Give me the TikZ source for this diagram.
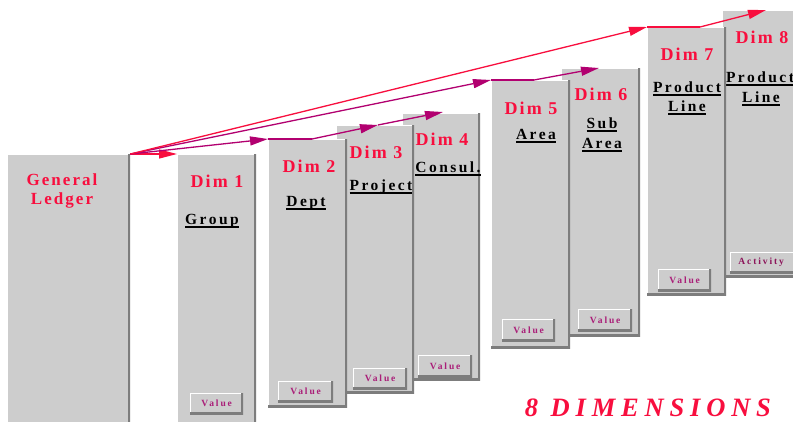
\documentclass[tikz,border=0pt]{standalone}
\usepackage{fontspec}
\setmainfont{Liberation Serif}
\usetikzlibrary{arrows.meta}
\newfontfamily\spacedA{Liberation Serif}[LetterSpace=12]
\newfontfamily\spacedB{Liberation Serif}[LetterSpace=16]
\newfontfamily\spacedC{Liberation Serif}[LetterSpace=20]
\newfontfamily\spacedT{Liberation Serif}[LetterSpace=22]
\definecolor{boxgray}{RGB}{205,205,205}
\definecolor{edgegray}{RGB}{125,125,125}
\definecolor{dimred}{RGB}{248,14,62}
\definecolor{arrmag}{RGB}{178,0,112}
\definecolor{valtext}{RGB}{170,30,120}
\definecolor{acttext}{RGB}{140,20,90}
\newsavebox\ulbox
\newcommand\myul[1]{\sbox\ulbox{#1}\rlap{\rule[-4pt]{\wd\ulbox}{1.8pt}}\usebox\ulbox}
\tikzset{
  panel/.style={fill=boxgray, inner sep=0, anchor=north west, path picture={
    \draw[white, line width=1.5pt] (path picture bounding box.south west) -- (path picture bounding box.north west) -- (path picture bounding box.north east);
    \draw[edgegray, line width=3.5pt] (path picture bounding box.north east) -- (path picture bounding box.south east) -- (path picture bounding box.south west);}},
  btn/.style={panel, text=valtext, font=\spacedC\bfseries\fontsize{9.5}{9.5}\selectfont},
  dimlab/.style={anchor=base, inner sep=0, text=dimred, font=\spacedA\bfseries\fontsize{18}{18}\selectfont},
  fieldlab/.style={anchor=base, inner sep=0, text=black, font=\spacedB\bfseries\fontsize{15.5}{16}\selectfont},
  redarrow/.style={draw=dimred, line width=1.3pt, -{Triangle[length=18pt,width=9pt]}},
  magarrow/.style={draw=arrmag, line width=1.3pt, -{Triangle[length=18pt,width=9pt]}},
  redline/.style={draw=dimred, line width=1.3pt},
  magline/.style={draw=arrmag, line width=1.3pt},
}
\begin{document}
\begin{tikzpicture}[x=1pt,y=-1pt]
\useasboundingbox (0,0) rectangle (793,421);
\fill[white] (0,0) rectangle (793,421);
\clip (0,0) rectangle (793,421);
% General ledger
\node[panel, minimum width=123, minimum height=280] (GL) at (7,154) {};
\node[dimlab, font=\spacedA\bfseries\fontsize{17}{17}\selectfont] (gl1) at (62,185) {General};
\node[dimlab, font=\spacedA\bfseries\fontsize{17}{17}\selectfont] (gl2) at (62,204) {Ledger};
% Dim 1
\node[panel, minimum width=79, minimum height=280] (D1) at (177,154) {};
\node[dimlab] (d1t) at (217,187) {Dim 1};
\node[fieldlab] (d1f) at (212,224) {\myul{Group}};
\node[btn, minimum width=53, minimum height=21] (B1) at (190,393) {Value};
% Dim 4, 3, 2
\node[panel, minimum width=78, minimum height=267] (D4) at (402,113) {};
\node[dimlab] (d4t) at (442,145) {Dim 4};
\node[fieldlab] (d4f) at (448,172) {\myul{Consul.}};
\node[btn, minimum width=54, minimum height=22] (B4) at (418,355) {Value};
\node[panel, minimum width=78, minimum height=268] (D3) at (336,125) {};
\node[dimlab] (d3t) at (376,158) {Dim 3};
\node[fieldlab] (d3f) at (381,190) {\myul{Project}};
\node[btn, minimum width=54, minimum height=21] (B3) at (353,368) {Value};
\node[panel, minimum width=79, minimum height=268] (D2) at (268,139) {};
\node[dimlab] (d2t) at (309,172) {Dim 2};
\node[fieldlab] (d2f) at (306,206) {\myul{Dept}};
\node[btn, minimum width=55, minimum height=21] (B2) at (278,381) {Value};
% Dim 6, 5
\node[panel, minimum width=79, minimum height=268] (D6) at (561,68) {};
\node[dimlab] (d6t) at (601,100) {Dim 6};
\node[fieldlab] (d6f) at (602,128) {\myul{Sub}};
\node[fieldlab] (d6g) at (602,148) {\myul{Area}};
\node[btn, minimum width=54, minimum height=22] (B6) at (578,309) {Value};
\node[panel, minimum width=79, minimum height=268] (D5) at (491,80) {};
\node[dimlab] (d5t) at (531,114) {Dim 5};
\node[fieldlab] (d5f) at (536,139) {\myul{Area}};
\node[btn, minimum width=53, minimum height=22] (B5) at (502,319) {Value};
% Dim 8, 7
\node[panel, minimum width=80, minimum height=267] (D8) at (722,10) {};
\node[dimlab] (d8t) at (762,43) {Dim 8};
\node[fieldlab] (d8f) at (760,82) {\myul{Product}};
\node[fieldlab] (d8g) at (761,102) {\myul{Line}};
\node[btn, minimum width=70, minimum height=21, text=acttext] (B8) at (730,252) {\hspace*{-8pt}Activity};
\node[panel, minimum width=79, minimum height=268] (D7) at (647,27) {};
\node[dimlab] (d7t) at (687,60) {Dim 7};
\node[fieldlab] (d7f) at (687,92) {\myul{Product}};
\node[fieldlab] (d7g) at (687,111) {\myul{Line}};
\node[btn, minimum width=53, minimum height=22] (B7) at (658,269) {Value};
% title
\node[anchor=base, inner sep=0, text=dimred, font=\spacedT\bfseries\itshape\fontsize{26.5}{26.5}\selectfont] (title) at (648,416) {8 DIMENSIONS};
% connector waypoints
\coordinate (m2) at (312,139);
\coordinate (t3) at (378,125);
\coordinate (t4) at (443,112);
\coordinate (m5) at (534,80);
\coordinate (t6) at (599,68);
\coordinate (m7) at (700,27);
\coordinate (t8) at (766,10);
% connectors
\draw[redarrow] (GL.north east) -- (D1.north west);
\draw[magarrow] (GL.north east) -- (D2.north west);
\draw[magline] (D2.north west) -- (m2);
\draw[magarrow] (m2) -- (t3);
\draw[magarrow] (t3) -- (t4);
\draw[magarrow] (GL.north east) -- (D5.north west);
\draw[magline] (D5.north west) -- (m5);
\draw[magarrow] (m5) -- (t6);
\draw[redarrow] (GL.north east) -- (D7.north west);
\draw[redline] (D7.north west) -- (m7);
\draw[redarrow] (m7) -- (t8);
\end{tikzpicture}
\end{document}
